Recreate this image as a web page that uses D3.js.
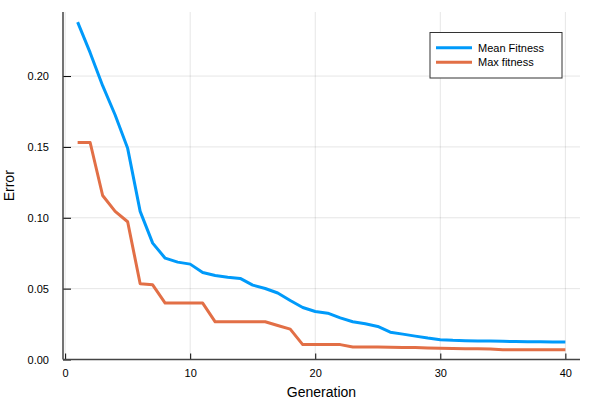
<!DOCTYPE html>
<html>
<head>
<meta charset="utf-8">
<script src="https://cdn.jsdelivr.net/npm/d3@7"></script>
<style>
  body { margin: 0; background: #fff; }
  svg { display: block; font-family: "Liberation Sans", Arial, sans-serif; }
</style>
</head>
<body>
<svg id="chart" width="600" height="400"></svg>
<script>
// generations 1..40
const generations = d3.range(1, 41);

const meanFitness = [
  0.2381, 0.2165, 0.1932, 0.1725, 0.1490, 0.1045, 0.0821, 0.0715, 0.0687, 0.0673,
  0.0614, 0.0593, 0.0581, 0.0572, 0.0525, 0.0501, 0.0469, 0.0416, 0.0367, 0.0339,
  0.0327, 0.0294, 0.0266, 0.0252, 0.0233, 0.0193, 0.0179, 0.0165, 0.0151, 0.0139,
  0.0135, 0.0133, 0.0131, 0.0130, 0.0128, 0.0127, 0.0126, 0.0125, 0.0124, 0.0123
];

const maxFitness = [
  0.1531, 0.1531, 0.1157, 0.1045, 0.0972, 0.0534, 0.0527, 0.0398, 0.0398, 0.0398,
  0.0398, 0.0266, 0.0266, 0.0266, 0.0266, 0.0266, 0.0240, 0.0214, 0.0105, 0.0105,
  0.0105, 0.0105, 0.0088, 0.0088, 0.0088, 0.0087, 0.0085, 0.0084, 0.0082, 0.0080,
  0.0078, 0.0076, 0.0075, 0.0074, 0.0069, 0.0068, 0.0068, 0.0068, 0.0068, 0.0068
];

const seriesNames = ["Mean Fitness", "Max fitness"];
const seriesColors = ["#009AFA", "#E26F46"];
const xTicks = [0, 10, 20, 30, 40];
const yTicks = [0, 0.05, 0.10, 0.15, 0.20];

const svg = d3.select("#chart");
const plotLeft = 63, plotRight = 580, plotTop = 12, plotBottom = 359.5;

const x = d3.scaleLinear().domain([-0.17, 41.17]).range([plotLeft, plotRight]);
const y = d3.scaleLinear().domain([0, 0.2452]).range([plotBottom, plotTop]);

// grid lines
const grid = svg.append("g").attr("stroke", "#000").attr("stroke-opacity", 0.1).attr("stroke-width", 1);
grid.selectAll("line.gx").data(xTicks).enter().append("line")
  .attr("x1", d => x(d)).attr("x2", d => x(d))
  .attr("y1", plotTop).attr("y2", plotBottom);
grid.selectAll("line.gy").data(yTicks).enter().append("line")
  .attr("x1", plotLeft).attr("x2", plotRight)
  .attr("y1", d => y(d)).attr("y2", d => y(d));

// axes: ticks point inward like GR
const xAxis = d3.axisBottom(x).tickValues(xTicks).tickSize(-6).tickPadding(10).tickFormat(d3.format("d"));
const yAxis = d3.axisLeft(y).tickValues(yTicks).tickSize(-8).tickPadding(14).tickFormat(d3.format(".2f"));

const gx = svg.append("g").attr("transform", `translate(0,${plotBottom})`).call(xAxis);
const gy = svg.append("g").attr("transform", `translate(${plotLeft},0)`).call(yAxis);

[gx, gy].forEach(g => {
  g.select(".domain").remove();
  g.selectAll(".tick line").attr("stroke", "#000").attr("stroke-width", 1);
  g.selectAll(".tick text").attr("font-size", 11).attr("fill", "#000")
    .attr("font-family", "Liberation Sans, Arial, sans-serif");
});

// axis lines
svg.append("line").attr("x1", plotLeft).attr("x2", plotRight).attr("y1", plotBottom).attr("y2", plotBottom)
  .attr("stroke", "#444").attr("stroke-width", 1.5);
svg.append("line").attr("x1", plotLeft).attr("x2", plotLeft).attr("y1", plotTop).attr("y2", plotBottom)
  .attr("stroke", "#444").attr("stroke-width", 1.5);

// series
const line = d3.line().x((d, i) => x(generations[i])).y(d => y(d));
[meanFitness, maxFitness].forEach((vals, k) => {
  svg.append("path").datum(vals)
    .attr("fill", "none")
    .attr("stroke", seriesColors[k])
    .attr("stroke-width", 3)
    .attr("stroke-linejoin", "round")
    .attr("d", line);
});

// axis labels
svg.append("text").attr("x", (plotLeft + plotRight) / 2).attr("y", 397)
  .attr("text-anchor", "middle").attr("font-size", 14).text("Generation");
svg.append("text").attr("transform", `translate(14,${(plotTop + plotBottom) / 2}) rotate(-90)`)
  .attr("text-anchor", "middle").attr("font-size", 14).text("Error");

// legend
const legend = svg.append("g");
legend.append("rect").attr("x", 430).attr("y", 32.5).attr("width", 132).attr("height", 45.5)
  .attr("fill", "#fff").attr("stroke", "#333").attr("stroke-width", 1);
seriesNames.forEach((name, k) => {
  const ly = 47.7 + k * 14.6;
  legend.append("line").attr("x1", 436).attr("x2", 472).attr("y1", ly).attr("y2", ly)
    .attr("stroke", seriesColors[k]).attr("stroke-width", 3);
  legend.append("text").attr("x", 478).attr("y", ly).attr("dy", "0.35em")
    .attr("font-size", 11).text(name);
});
</script>
</body>
</html>
